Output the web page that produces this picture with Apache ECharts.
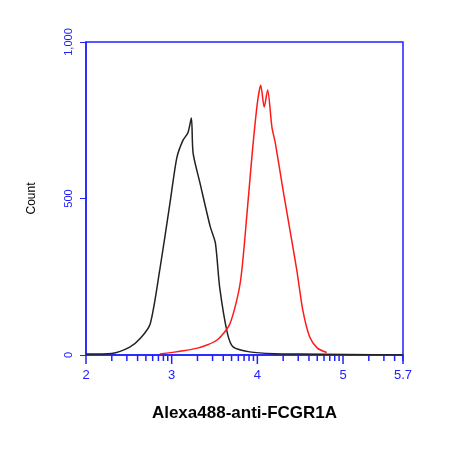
<!DOCTYPE html>
<html><head><meta charset="utf-8">
<script src="https://cdn.jsdelivr.net/npm/echarts@6/dist/echarts.min.js"></script>
<style>html,body{margin:0;background:#fff}#c{width:450px;height:450px}</style>
</head><body><div id="c"></div>
<script>
// x values are log10 of fluorescence intensity
const xTickLabels = ['2', '3', '4', '5', '5.7'];
const xTickValues = [2, 3, 4, 5, 5.7];
const controlX = [2.0, 2.3, 2.51, 2.64, 2.75, 2.86, 2.98, 3.06, 3.13, 3.19, 3.23, 3.25, 3.33, 3.45, 3.51, 3.56, 3.65, 3.72, 3.91, 4.2, 4.5, 5.7];
const controlY = [3, 5, 25, 55, 100, 270, 485, 630, 685, 710, 757, 645, 550, 410, 358, 217, 70, 25, 10, 4, 3, 0];
const stainedX = [2.86, 3.3, 3.53, 3.68, 3.8, 3.88, 3.94, 4.0, 4.04, 4.08, 4.12, 4.17, 4.21, 4.3, 4.38, 4.46, 4.53, 4.61, 4.7, 4.81];
const stainedY = [3, 22, 48, 100, 230, 455, 645, 805, 862, 792, 847, 728, 677, 527, 400, 272, 144, 58, 22, 8];

const minorTicks = [];
for (let d = 2; d < 6; d++) {
  for (let k = 2; k <= 9; k++) {
    const v = d + Math.log10(k);
    if (v < 5.7) minorTicks.push(v);
  }
}

const blue = '#2020ff';
const chart = echarts.init(document.getElementById('c'));
chart.setOption({
  animation: false,
  grid: { left: 86, right: 47, top: 42, bottom: 95 },
  xAxis: {
    type: 'value', min: 2, max: 5.7,
    name: 'Alexa488-anti-FCGR1A', nameLocation: 'middle', nameGap: 50,
    nameTextStyle: { fontFamily: 'Liberation Sans', fontWeight: 'bold', fontSize: 17, color: '#000' },
    axisLine: { lineStyle: { color: blue, width: 1.5 } },
    axisTick: { show: false },
    splitLine: { show: false },
    axisLabel: {
      customValues: xTickValues, color: blue, fontSize: 13, margin: 14,
      formatter: v => xTickLabels[xTickValues.indexOf(v)] || ''
    }
  },
  yAxis: {
    type: 'value', min: 0, max: 1000, interval: 500,
    name: 'Count', nameLocation: 'middle', nameGap: 48,
    nameTextStyle: { fontFamily: 'Liberation Sans', fontSize: 12, color: '#000' },
    axisLine: { show: true, lineStyle: { color: blue, width: 1.5 } },
    axisTick: { show: true, length: 6, lineStyle: { color: blue } },
    splitLine: { show: false },
    axisLabel: { color: blue, fontSize: 11, rotate: 90, margin: 12,
      formatter: v => v === 1000 ? '1,000' : String(v) }
  },
  series: [
    {
      type: 'custom', silent: true, clip: false,
      data: minorTicks.map(v => [v]).concat(xTickValues.map(v => [v, 1])),
      renderItem: (params, api) => {
        const p = api.coord([api.value(0), 0]);
        const len = api.value(1) ? 9 : 6;
        return { type: 'line', shape: { x1: p[0], y1: p[1], x2: p[0], y2: p[1] + len },
          style: { stroke: blue, lineWidth: 1.5 } };
      },
      encode: { x: 0 }
    },
    {
      type: 'custom', silent: true,
      data: [[0]],
      renderItem: (params) => ({ type: 'rect',
        shape: { x: params.coordSys.x, y: params.coordSys.y, width: params.coordSys.width, height: params.coordSys.height },
        style: { fill: 'none', stroke: blue, lineWidth: 1.5 } })
    },
    { type: 'line', data: controlX.map((x, i) => [x, controlY[i]]), showSymbol: false, smooth: 0.25,
      lineStyle: { color: '#222', width: 1.5 } },
    { type: 'line', data: stainedX.map((x, i) => [x, stainedY[i]]), showSymbol: false, smooth: 0.25,
      lineStyle: { color: '#ff1a1a', width: 1.5 } }
  ]
});
</script></body></html>
